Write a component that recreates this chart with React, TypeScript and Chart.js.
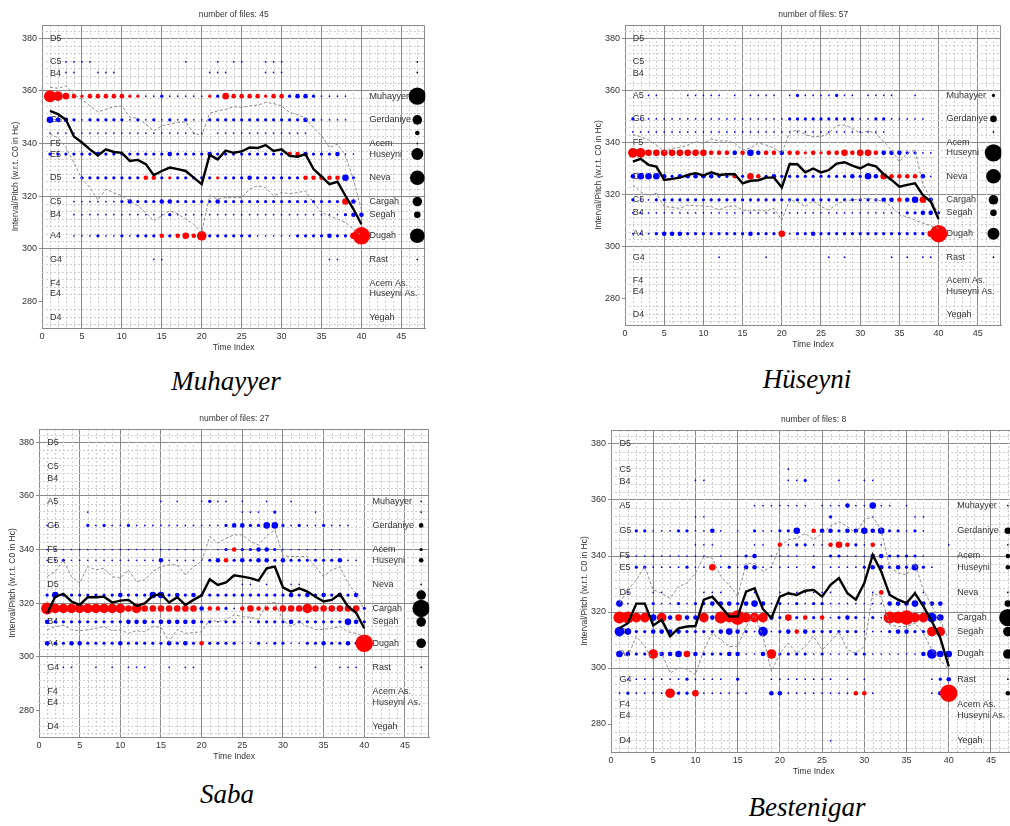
import React, { useEffect, useRef } from "react";
import { Chart, registerables } from "chart.js";

Chart.register(...registerables);

const FONT = '"Liberation Sans", Arial, Helvetica, sans-serif';
const BLUE = "rgb(0,0,255)";
const RED = "rgb(255,0,0)";
const GRID = "#8a8a8a";
const TEXT = "#333333";

// bubble size code -> radius (px)
const RADII = [0, 0.85, 1.6, 2.3, 3.3, 4.8, 6, 7.3, 8.7];

const X_TICKS = [0, 5, 10, 15, 20, 25, 30, 35, 40, 45];
const Y_TICKS = [280, 300, 320, 340, 360, 380];
const SIDE_X = 47;

const LEFT_NOTES: [number, string][] = [
  [380, "D5"], [371, "C5"], [366.5, "B4"], [358, "A5"], [349, "G5"], [340, "F5"], [336, "E5"],
  [327, "D5"], [318, "C5"], [313, "B4"], [305, "A4"], [296, "G4"], [287, "F4"], [283, "E4"], [274, "D4"],
];
const RIGHT_NOTES: [number, string][] = [
  [358, "Muhayyer"], [349, "Gerdaniye"], [340, "Acem"], [336, "Huseyni"], [327, "Neva"],
  [318, "Cargah"], [313, "Segah"], [305, "Dugah"], [296, "Rast"], [287, "Acem As."],
  [283, "Huseyni As."], [274, "Yegah"],
];

// Rows: [pitch, 40 cells t=1..40]; "." none, 1-8 blue size, a-h red size
const muhayyerRows: [number, string][] = [
  [371, "..111 1.... ..... ..1.. .1.11 ..111 ..... ....."],
  [367, "..11. .111. ..... ..... 111.. ..111 ..... ....."],
  [358, "fedcb ccccc bb112 11111 b2dcc ccbcc 23321 111.."],
  [349, "43321 22222 12121 21211 22222 22222 22321 111.."],
  [344, "11111 11111 11111 11111 .1111 11111 111.. ....."],
  [336, "22222 23222 22222 32222 32222 22222 cc322 2311."],
  [327, "...12 22222 22cc2 b2222 2b222 32222 22ccc cc42."],
  [318, "...11 11112 32223 32222 23222 22222 22222 22d3."],
  [313, "...11 11111 11111 21111 11111 11111 11111 11233"],
  [305, "...11 12112 1222c 2cdce 22222 21111 12222 322dh"],
  [296, "..... ..... ...11 ..... ..... ..... ..... 11..."],
];
const muhayyerSide: [number, number][] = [
  [371, 1], [367, 1], [358, 8], [349, 5], [344, 3], [340, 1], [336, 6], [327, 7], [318, 5], [313, 4], [305, 7], [296, 1],
];
const muhayyerMean = [352.4, 351.2, 349, 342.7, 340.4, 337.8, 335.5, 337.8, 336.8, 336.5, 333.4, 333.8, 332.2, 328, 329.6, 330.9, 330.3, 329.6, 327.1, 324.6, 335.7, 334, 337.3, 336.5, 337, 338.5, 338.3, 339.4, 337.2, 337.8, 335.3, 335, 336, 330.3, 327.5, 324.6, 325.5, 320.2, 315.1, 309.4];
const muhayyerUpper = [361.3, 361, 361.9, 358.7, 356.8, 354.3, 352, 353, 354, 354.3, 350, 349.6, 347.4, 344.8, 346.7, 347.4, 348, 348.2, 344, 343, 351.5, 352.4, 353, 354, 353.7, 354.3, 354.6, 355.6, 355.2, 354.3, 351.8, 351, 349.6, 346, 343, 338.5, 339.8, 335.3, 326.5, 315];
const muhayyerLower = [343.6, 342.3, 338.5, 332.8, 326.5, 323.3, 318.6, 322.7, 321.3, 320.2, 318.3, 316.4, 313.8, 310.7, 312.6, 314.5, 313.3, 311.3, 309.4, 306.2, 320.2, 318.9, 319.5, 319.5, 319.5, 322.7, 324, 323.3, 320.2, 321.4, 321, 321.4, 322, 317.6, 313.8, 312.6, 311.3, 310, 307.5, 305];

const huseyniRows: [number, string][] = [
  [358, "..11. ..111 11.1. 1111. 12111 1211. 1111. .1..."],
  [349, "21111 11111 11111 11111 22222 22221 12211 111.."],
  [344, "11111 11111 11111 11111 11111 11111 111.. ....."],
  [336, "eeddd ddddd ccc3c 43cc3 ccbcb ccdcd dc333 2211."],
  [327, "34443 23333 322c2 dc232 22222 22232 43dcc cc31."],
  [318, "21122 22222 22222 22222 22222 22222 2233c 34d3."],
  [313, "11111 11111 11111 11111 11111 11111 11111 22332"],
  [305, "11123 33222 22222 3222d 12232 22222 22222 222dh"],
  [296, "..... ..... .1... ..1.. ..... 1.1.. ...1. 1.11."],
];
const huseyniSide: [number, number][] = [
  [358, 2], [349, 4], [344, 1], [336, 8], [327, 7], [318, 5], [313, 4], [305, 6], [296, 1],
];
const huseyniMean = [332.6, 333.7, 331.4, 330.7, 325.6, 326, 326.5, 327.5, 328.2, 327.3, 328.5, 327.5, 327.8, 327.8, 324.3, 325.3, 325.5, 326.5, 326.5, 322.7, 331.7, 331.6, 328.5, 330, 328.5, 329.4, 331.9, 332.4, 331.1, 330, 331.6, 330.8, 327.8, 325.6, 323, 323.7, 324.3, 319.8, 317.3, 310.6];
const huseyniUpper = [342.9, 342.2, 341, 339, 336.5, 337.8, 338, 339, 340.3, 339.7, 341.3, 340.6, 340.6, 339.7, 337.1, 337.8, 339.7, 339, 337.8, 335.8, 343.9, 344.8, 342.9, 342.2, 342.2, 343.5, 346.5, 346.7, 345.4, 343.5, 344.4, 343.5, 340.3, 337.1, 332.6, 335.8, 337.1, 323.7, 318.6, 312.2];
const huseyniLower = [323.7, 321, 319.6, 320.5, 315.4, 315.1, 314.7, 316, 315.7, 315.6, 315.4, 314.1, 315.4, 315.7, 314.1, 313.7, 314.1, 313.7, 314.7, 310.2, 317.9, 317.3, 315.4, 317.6, 315.4, 314.1, 316.3, 317.6, 317.9, 318.3, 318.6, 318, 317.3, 315.4, 312.2, 311.5, 310.2, 309, 308.1, 307];

const sabaRows: [number, string][] = [
  [358, "..... ..... ....1 .1..1 211.1 ..1.. 1.... ....."],
  [354, "..... 1.... ..... ..... ....1 11.2. ...1. ....."],
  [349, "11... 21211 21111 11111 11233 22442 12112 111.."],
  [340, "11111 11111 11111 11111 .12c2 23321 11111 11..."],
  [336, "11211 11111 11113 11111 23c23 23323 22222 2311."],
  [327, "..... ..... ..... ..... ....1 1.1.. 11... ....."],
  [323, "24222 22223 22244 23232 22222 22222 32323 2323."],
  [318, "feeee eeeee deddd dddd3 cc21c dcccd ddedd dddd2"],
  [313, "32222 22222 33323 33332 21221 12222 32222 22432"],
  [305, "32233 22223 22222 3232c 22221 12122 11223 2232h"],
  [296, "..11. .1.1. 111.. 1.11. ..... ..... ...1. .111."],
];
const sabaSide: [number, number][] = [
  [358, 1], [354, 1], [349, 3], [340, 2], [336, 3], [327, 1], [323, 5], [318, 8], [313, 5], [305, 5], [296, 1],
];
const sabaMean = [316.2, 322.4, 323.4, 320.6, 319.3, 322.2, 322.2, 322.4, 320.2, 320.9, 321.2, 318.9, 319.9, 322.7, 323.4, 320.2, 322.2, 319.3, 321.2, 322.9, 328.9, 326.8, 327.7, 330.4, 329.9, 329.3, 328.4, 333, 333.6, 325.9, 324.3, 325.5, 324.3, 322.4, 320.6, 321.2, 323.4, 318.7, 316.4, 310.6];
const sabaUpper = [329.9, 331.8, 336.1, 329.9, 327.4, 333.6, 332.4, 333, 329.9, 329.3, 332.4, 328, 328.7, 331.8, 333.6, 334.3, 334.3, 330.5, 333.6, 335.5, 344.9, 342.4, 344.2, 345.5, 345.5, 343, 341.7, 345.1, 347.4, 337.6, 337.4, 337.4, 337.4, 333.6, 329.9, 332.4, 333.6, 327.4, 323.7, 317.4];
const sabaLower = [310, 311.2, 311.8, 310, 309.7, 310, 310.6, 311.2, 309.7, 310, 308.7, 309.7, 309.3, 311.2, 311, 305.6, 310.2, 308.7, 309, 309.3, 313.7, 313.1, 313.7, 315.6, 315, 314.7, 314, 319.9, 320.2, 313.7, 311.2, 313.1, 311.2, 310.2, 310.2, 310.6, 311.2, 309.3, 308.7, 307.5];

const bestenigarRows: [number, string][] = [
  [371, "..... ..... ..... ..... 1.... ..... ..... ....."],
  [367, "..... ....1 1.... ..... 112.. .1..1 1.... ....."],
  [358, "..... ..... ..... .1111 111.1 11311 411.1 ....."],
  [354, "..... ....1 1.... ..... ..... 2.... 1.... 11..."],
  [349, "..221 11221 131.1 .2112 24.c3 32334 34221 21..."],
  [344, "..... ....1 11... .11.c 12211 cdc21 c1... ....1"],
  [340, ".1111 11111 1.1.1 23.11 11.1. 22111 33222 21..."],
  [336, "..221 11121 1d121 33111 11.2. 11112 33232 421.."],
  [327, ".1..1 1.... 111.. .1..1 11111 1.... 1c1.. 11..."],
  [323, "41112 11212 23332 34312 12122 11111 11333 4333."],
  [318, "ffee4 e3d33 e3feg eee32 d2c2c 12321 21ffg ee54."],
  [313, "54223 33322 22343 21512 3c322 22221 11233 22ee."],
  [305, "4322e 334d3 22233 113e2 22212 11122 11111 13544"],
  [296, ".1111 11121 111.2 ...11 11111 1.1.1 ..... ..123"],
  [291, "12111 1e22d 11111 1..33 11111 111cc 1.... ..13h"],
  [274, "..... ..... ..... ..... ..... 1.... ..... ....."],
];
const bestenigarSide: [number, number][] = [
  [358, 1], [349, 4], [344, 1], [340, 3], [336, 3], [327, 1], [323, 4], [318, 8], [313, 5], [305, 5], [296, 1], [291, 3],
];
const bestenigarMean = [314.2, 316, 323, 323, 315.2, 317.2, 311.3, 314.2, 314.8, 315, 324.4, 325.5, 322, 318.4, 318.4, 327.3, 328.5, 321, 317.8, 325.5, 326.7, 326.1, 327.6, 327.9, 325.5, 329.7, 332.1, 326.7, 324.4, 330.3, 340.4, 334.5, 326.1, 324.4, 323.2, 326.7, 322, 316.6, 310.7, 300.6];
const bestenigarUpper = [323.2, 327.9, 331.5, 336.2, 327.9, 326.7, 324.9, 329.1, 330.3, 333.9, 339.8, 339.2, 332.7, 329.7, 325.5, 337.4, 337.4, 334.5, 336.2, 343.4, 345.8, 346.3, 348.1, 345.8, 348.1, 350.7, 352.3, 350.5, 348.1, 352.9, 354.1, 349.3, 336.2, 333.9, 333.3, 337.4, 327.9, 322, 317.2, 310];
const bestenigarLower = [306.5, 304.1, 311.3, 307.7, 302.9, 305.3, 298.2, 300, 299.6, 297.6, 306.5, 312.5, 310.1, 307.7, 307.7, 314.8, 319, 311.3, 298.8, 305.3, 308.9, 305.3, 307.7, 311.3, 306.5, 309.5, 313, 306.5, 305.3, 307.7, 326.7, 325.5, 315.4, 314.8, 314.8, 316, 312.5, 306.5, 302.9, 299.4];

type Pt = { x: number; y: number; r?: number };

function buildBubbles(rows: [number, string][]) {
  const blue: Pt[] = [];
  const red: Pt[] = [];
  for (const [pitch, cells] of rows) {
    const s = cells.replace(/\s/g, "");
    for (let i = 0; i < s.length; i++) {
      const c = s[i];
      if (c === ".") continue;
      if (c >= "1" && c <= "9") blue.push({ x: i + 1, y: pitch, r: RADII[Number(c)] });
      else red.push({ x: i + 1, y: pitch, r: RADII[c.charCodeAt(0) - 96] });
    }
  }
  return { blue, red };
}

function series(vals: number[]): Pt[] {
  return vals.map((v, i) => ({ x: i + 1, y: v }));
}

const AXW = 40;
const PT = 22;
const XH = 32;
const PR = 6;

function makeDecor(title: string) {
  return {
    id: "decor",
    beforeDatasetsDraw(chart: any) {
      const { ctx, chartArea: a } = chart;
      const x = chart.scales.x;
      const y = chart.scales.y;
      ctx.save();
      ctx.beginPath();
      ctx.rect(a.left, a.top, a.right - a.left, a.bottom - a.top);
      ctx.clip();
      ctx.strokeStyle = "#cfcfcf";
      ctx.lineWidth = 1;
      ctx.setLineDash([2, 2]);
      ctx.beginPath();
      for (let v = 1; v < 48; v++) {
        if (v % 5 === 0) continue;
        const px = Math.round(x.getPixelForValue(v)) + 0.5;
        ctx.moveTo(px, a.top);
        ctx.lineTo(px, a.bottom);
      }
      for (let k = 0; k < 50; k++) {
        const v = 260 + (k * 20) / 7;
        if (v <= 270.5 || v >= 384.5) continue;
        if (k % 7 === 0) continue;
        const py = Math.round(y.getPixelForValue(v)) + 0.5;
        ctx.moveTo(a.left, py);
        ctx.lineTo(a.right, py);
      }
      ctx.stroke();
      ctx.setLineDash([]);
      ctx.restore();

      ctx.save();
      ctx.strokeStyle = GRID;
      ctx.lineWidth = 1;
      ctx.beginPath();
      const t = Math.round(a.top) + 0.5;
      const r = Math.round(a.right) - 0.5;
      ctx.moveTo(a.left, t);
      ctx.lineTo(r, t);
      ctx.lineTo(r, a.bottom);
      ctx.stroke();

      ctx.font = `9px ${FONT}`;
      ctx.fillStyle = TEXT;
      ctx.textAlign = "left";
      ctx.textBaseline = "middle";
      for (const [v, n] of LEFT_NOTES) ctx.fillText(n, x.getPixelForValue(1), y.getPixelForValue(v));
      for (const [v, n] of RIGHT_NOTES) ctx.fillText(n, x.getPixelForValue(41), y.getPixelForValue(v));
      ctx.restore();
    },
    afterDraw(chart: any) {
      const { ctx, chartArea: a } = chart;
      ctx.save();
      ctx.font = `8.5px ${FONT}`;
      ctx.fillStyle = TEXT;
      ctx.textAlign = "center";
      ctx.textBaseline = "middle";
      const cx = (a.left + a.right) / 2;
      ctx.fillText(title, cx, a.top - 10);
      ctx.fillText("Time Index", cx, a.bottom + 20);
      ctx.translate(a.left - 26, (a.top + a.bottom) / 2);
      ctx.rotate(-Math.PI / 2);
      ctx.fillText("Interval/Pitch (w.r.t. C0 in Hc)", 0, 0);
      ctx.restore();
    },
  };
}

type PanelProps = {
  title: string;
  rows: [number, string][];
  side: [number, number][];
  mean: number[];
  upper: number[];
  lower: number[];
  area: { l: number; t: number; r: number; b: number };
};

function Panel(props: PanelProps) {
  const ref = useRef<HTMLCanvasElement>(null);
  const { area } = props;
  const W = area.r - area.l + AXW + PR;
  const H = area.b - area.t + PT + XH;

  useEffect(() => {
    if (!ref.current) return;
    const { blue, red } = buildBubbles(props.rows);
    const side = props.side.map(([p, c]) => ({ x: SIDE_X, y: p, r: RADII[c] }));
    const chart = new Chart(ref.current, {
      type: "bubble",
      data: {
        datasets: [
          {
            type: "line",
            data: series(props.mean),
            borderColor: "#000",
            borderWidth: 2.4,
            pointRadius: 0,
            tension: 0,
            fill: false,
            order: 0,
          } as any,
          {
            type: "line",
            data: series(props.upper),
            borderColor: "#8c8c8c",
            borderWidth: 1,
            borderDash: [3, 2],
            pointRadius: 0,
            tension: 0,
            fill: false,
            order: 1,
          } as any,
          {
            type: "line",
            data: series(props.lower),
            borderColor: "#8c8c8c",
            borderWidth: 1,
            borderDash: [3, 2],
            pointRadius: 0,
            tension: 0,
            fill: false,
            order: 1,
          } as any,
          { data: red, backgroundColor: RED, borderWidth: 0, order: 2 } as any,
          { data: blue, backgroundColor: BLUE, borderWidth: 0, order: 3 } as any,
          { data: side, backgroundColor: "#000", borderWidth: 0, order: 3 } as any,
        ],
      },
      options: {
        responsive: false,
        animation: false,
        devicePixelRatio: 1,
        events: [],
        layout: { padding: { top: PT, right: PR, left: 0, bottom: 0 } },
        plugins: {
          legend: { display: false },
          tooltip: { enabled: false },
          title: { display: false },
        },
        scales: {
          x: {
            type: "linear",
            min: 0,
            max: 48,
            afterFit: (s: any) => {
              s.height = XH;
            },
            afterBuildTicks: (s: any) => {
              s.ticks = X_TICKS.map((v) => ({ value: v }));
            },
            ticks: {
              includeBounds: false,
              font: { size: 9, family: FONT },
              color: TEXT,
              padding: 3,
              maxRotation: 0,
              autoSkip: false,
            },
            grid: { color: GRID, lineWidth: 1, drawTicks: false },
            border: { color: GRID, width: 1 },
          },
          y: {
            type: "linear",
            min: 270,
            max: 385,
            afterFit: (s: any) => {
              s.width = AXW;
            },
            afterBuildTicks: (s: any) => {
              s.ticks = Y_TICKS.map((v) => ({ value: v }));
            },
            ticks: {
              includeBounds: false,
              font: { size: 9, family: FONT },
              color: TEXT,
              padding: 2,
              autoSkip: false,
            },
            grid: {
              color: (c: any) => (c.tick && c.tick.value === 280 ? "rgba(0,0,0,0)" : GRID),
              tickColor: GRID,
              tickLength: 3,
              lineWidth: 1,
              drawTicks: true,
            },
            border: { color: GRID, width: 1 },
          },
        },
      } as any,
      plugins: [makeDecor(props.title) as any],
    });
    return () => chart.destroy();
  }, []);

  return (
    <canvas
      ref={ref}
      width={W}
      height={H}
      style={{ position: "absolute", left: area.l - AXW, top: area.t - PT, width: W, height: H }}
    />
  );
}

const CAPTIONS: { text: string; cx: number; base: number }[] = [
  { text: "Muhayyer", cx: 226, base: 391 },
  { text: "Hüseyni", cx: 807, base: 389 },
  { text: "Saba", cx: 227, base: 804 },
  { text: "Bestenigar", cx: 807, base: 817 },
];

export default function App() {
  const CAP = 27;
  return (
    <div
      style={{
        position: "fixed",
        left: 0,
        top: 0,
        width: 1010,
        height: 826,
        overflow: "hidden",
        background: "#fff",
      }}
    >
      <Panel
        title="number of files: 45"
        rows={muhayyerRows}
        side={muhayyerSide}
        mean={muhayyerMean}
        upper={muhayyerUpper}
        lower={muhayyerLower}
        area={{ l: 42, t: 25, r: 428, b: 328 }}
      />
      <Panel
        title="number of files: 57"
        rows={huseyniRows}
        side={huseyniSide}
        mean={huseyniMean}
        upper={huseyniUpper}
        lower={huseyniLower}
        area={{ l: 625, t: 25, r: 1004, b: 325 }}
      />
      <Panel
        title="number of files: 27"
        rows={sabaRows}
        side={sabaSide}
        mean={sabaMean}
        upper={sabaUpper}
        lower={sabaLower}
        area={{ l: 39, t: 429, r: 432, b: 737 }}
      />
      <Panel
        title="number of files: 8"
        rows={bestenigarRows}
        side={bestenigarSide}
        mean={bestenigarMean}
        upper={bestenigarUpper}
        lower={bestenigarLower}
        area={{ l: 611, t: 430, r: 1019, b: 752 }}
      />
      {CAPTIONS.map((c) => (
        <div
          key={c.text}
          style={{
            position: "absolute",
            left: c.cx - 150,
            width: 300,
            top: c.base - Math.round(CAP * 0.8375),
            height: CAP,
            lineHeight: `${CAP}px`,
            textAlign: "center",
            fontFamily: '"Liberation Serif", "Times New Roman", serif',
            fontStyle: "italic",
            fontSize: CAP,
            color: "#000",
            whiteSpace: "nowrap",
          }}
        >
          {c.text}
        </div>
      ))}
    </div>
  );
}
